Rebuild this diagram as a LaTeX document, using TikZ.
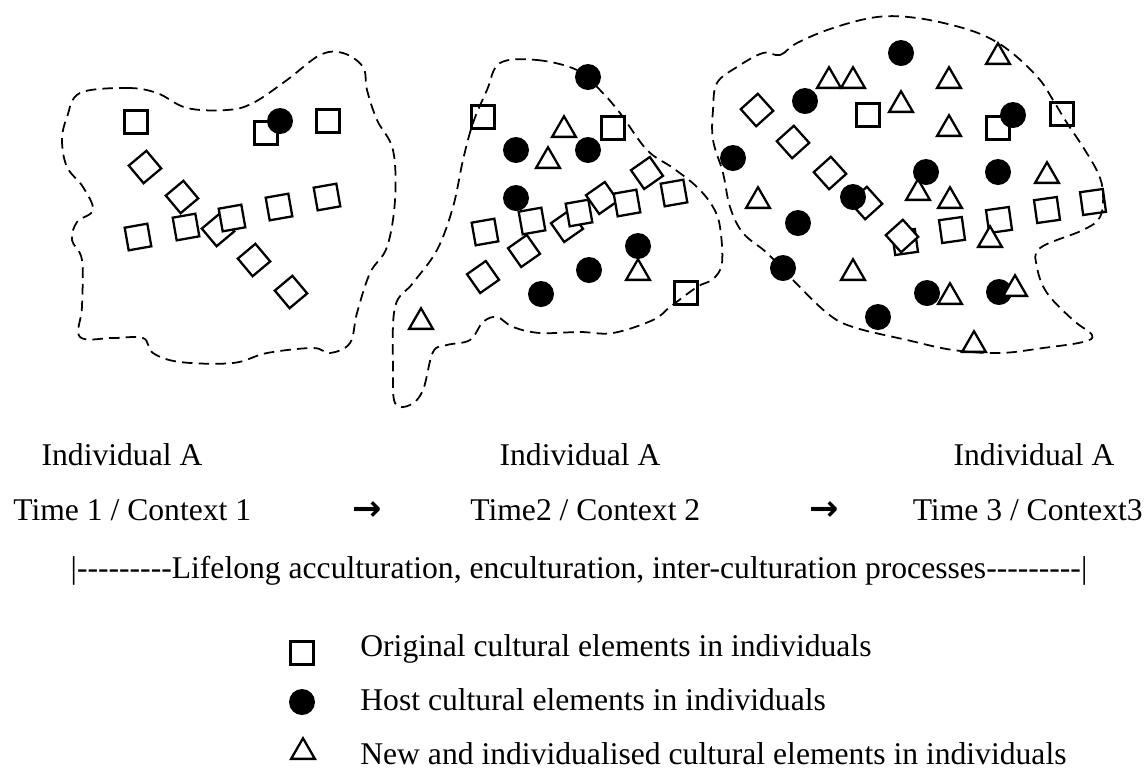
\documentclass[tikz,border=0pt]{standalone}
\usepackage{fontspec}
\setmainfont{Liberation Serif}
\newfontfamily\arrowfont{DejaVu Sans}
\usetikzlibrary{shapes.geometric}

\begin{document}
\begin{tikzpicture}[x=0.02cm,y=-0.02cm,
    txt/.style={font=\fontsize{18}{21}\selectfont,inner sep=0},
    step arrow/.style={font=\fontsize{20}{22}\selectfont\arrowfont\bfseries,inner sep=0},
    orig/.style={draw,line width=1.3pt,fill=white,minimum size=0.46cm,inner sep=0},
    host/.style={circle,fill=black,minimum size=0.52cm,inner sep=0},
    newel/.style={regular polygon,regular polygon sides=3,draw,line width=1.3pt,fill=white,
        minimum size=0.55cm,inner sep=0,yshift=-0.06cm},
    border/.style={line width=1pt,dash pattern=on 6pt off 3.5pt}]
    \useasboundingbox (0,0) rectangle (1147,769);
    % individual A, time 1
    \foreach \x/\y [count=\i] in {145/167,182/197,218/230,254/260,291/292}
        \node[orig,rotate=40] (dmA\i) at (\x,\y) {};
    \foreach \x/\y [count=\i] in {138/237,186/227,232/218,279/207,327/197}
        \node[orig,rotate=10] (rwA\i) at (\x,\y) {};
    \foreach \x/\y [count=\i] in {136/122,266/133,328/121}
        \node[orig] (orA\i) at (\x,\y) {};
    \node[host] (hoA1) at (280,121) {};
    \draw[border] plot[smooth cycle,tension=0.6] coordinates {(80,93)(127,88)(157,93)(187,108)(227,110)(253,103)
        (287,80)(320,55)(343,53)(363,67)(367,90)(377,120)(393,150)(395,200)(387,247)(370,273)(357,313)
        (350,343)(330,353)(313,348)(267,353)(233,363)(180,362)(153,353)(143,338)(113,338)(80,337)
        (82,307)(82,260)(72,240)(77,222)(93,210)(83,187)(67,167)(62,140)(67,117)};
    % individual A, time 2
    \foreach \x/\y [count=\i] in {483/277,524/251,567/226,602/198,647/173}
        \node[orig,rotate=35] (dmB\i) at (\x,\y) {};
    \foreach \x/\y [count=\i] in {485/232,532/221,579/213,627/203,674/193}
        \node[orig,rotate=10] (rwB\i) at (\x,\y) {};
    \foreach \x/\y [count=\i] in {483/117,613/128,686/293}
        \node[orig] (orB\i) at (\x,\y) {};
    \foreach \x/\y [count=\i] in {564/127,548/158,638/270,421/319}
        \node[newel] (nwB\i) at (\x,\y) {};
    \foreach \x/\y [count=\i] in {588/77,516/150,588/150,516/198,638/246,589/270,541/294}
        \node[host] (hoB\i) at (\x,\y) {};
    \draw[border] plot[smooth cycle,tension=0.6] coordinates {(500,63)(537,60)(577,70)(600,90)(620,113)(647,150)
        (673,168)(697,187)(713,207)(720,227)(722,263)(713,279)(697,287)(670,307)(653,320)(613,333)
        (580,332)(540,333)(513,327)(497,317)(483,322)(470,340)(447,345)(433,352)(423,390)(410,405)
        (395,403)(393,367)(395,307)(413,283)(437,250)(453,207)(463,160)(473,123)(487,90)};
    % individual A, time 3
    \foreach \x/\y [count=\i] in {905/242,952/230,999/220,1047/210,1093/202}
        \node[orig,rotate=8] (rwC\i) at (\x,\y) {};
    \foreach \x/\y [count=\i] in {757/110,793/142,830/173,866/203,902/236}
        \node[orig,rotate=42] (dmC\i) at (\x,\y) {};
    \foreach \x/\y [count=\i] in {868/115,998/128,1062/114}
        \node[orig] (orC\i) at (\x,\y) {};
    \foreach \x/\y [count=\i] in {998/54,829/78,853/78,949/78,901/102,949/126,1047/173,758/198,
            918/190,950/198,990/237,853/270,974/342}
        \node[newel] (nwC\i) at (\x,\y) {};
    \foreach \x/\y [count=\i] in {901/53,805/101,1013/115,733/158,926/172,998/172,853/197,798/223,
            783/268,927/293,999/292,878/317}
        \node[host] (hoC\i) at (\x,\y) {};
    \node[newel] (nwC14) at (950,294) {};
    \node[newel] (nwC15) at (1015,286) {};
    \draw[border] plot[smooth cycle,tension=0.6] coordinates {(763,53)(780,55)(797,43)(833,28)(877,17)(917,18)
        (963,28)(993,40)(1017,57)(1040,80)(1053,100)(1067,123)(1083,147)(1098,173)(1103,193)(1100,217)
        (1083,230)(1040,248)(1037,267)(1047,293)(1073,320)(1092,335)(1083,342)(1043,348)(1000,353)
        (953,350)(907,340)(853,327)(827,313)(793,280)(767,253)(743,233)(730,207)(723,173)(713,140)
        (713,110)(717,83)(737,67)};
    % labels
    \node[txt,anchor=base] (indA) at (122,465) {Individual A};
    \node[txt,anchor=base] (indB) at (580,465) {Individual A};
    \node[txt,anchor=base] (indC) at (1034,465) {Individual A};
    \node[txt,anchor=base west] (timeA) at (13,520) {Time 1 / Context 1};
    \node[txt,anchor=base west] (timeB) at (470,520) {Time2 / Context 2};
    \node[txt,anchor=base east] (timeC) at (1143,520) {Time 3 / Context3};
    \node[step arrow] (arrAB) at (367,511) {→};
    \node[step arrow] (arrBC) at (824,511) {→};
    \node[txt,anchor=base] (life) at (579,578)
        {|-{}-{}-{}-{}-{}-{}-{}-{}-Lifelong acculturation, enculturation, inter-culturation processes-{}-{}-{}-{}-{}-{}-{}-{}-|};
    % key
    \node[orig] (keyO) at (302,653) {};
    \node[host] (keyH) at (302,702) {};
    \node[newel] (keyN) at (303,749) {};
    \node[txt,anchor=base west] (txtO) at (360,656) {Original cultural elements in individuals};
    \node[txt,anchor=base west] (txtH) at (360,710) {Host cultural elements in individuals};
    \node[txt,anchor=base west] (txtN) at (360,764) {New and individualised cultural elements in individuals};
\end{tikzpicture}
\end{document}
